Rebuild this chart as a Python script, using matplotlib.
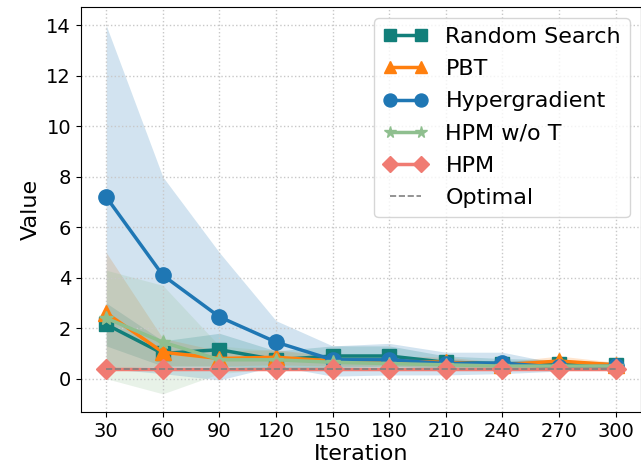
import matplotlib
matplotlib.use("Agg")
import matplotlib.pyplot as plt
import numpy as np

iterations = [30, 60, 90, 120, 150, 180, 210, 240, 270, 300]

rs_mean = [2.15, 1.0, 1.15, 0.75, 0.9, 0.9, 0.65, 0.6, 0.6, 0.55]
rs_low = [1.3, 0.5, 0.5, 0.4, 0.45, 0.5, 0.4, 0.4, 0.45, 0.45]
rs_high = [3.0, 1.5, 1.8, 1.1, 1.3, 1.3, 0.9, 0.8, 0.75, 0.65]

pbt_mean = [2.6, 1.05, 0.8, 0.85, 0.7, 0.7, 0.65, 0.55, 0.7, 0.55]
pbt_low = [0.4, 0.5, 0.5, 0.55, 0.5, 0.5, 0.45, 0.45, 0.55, 0.45]
pbt_high = [5.0, 1.6, 1.1, 1.15, 0.9, 0.9, 0.85, 0.65, 0.9, 0.65]

hg_mean = [7.2, 4.1, 2.45, 1.45, 0.75, 0.75, 0.6, 0.62, 0.45, 0.5]
hg_low = [0.4, 0.2, -0.05, 0.5, 0.1, 0.15, 0.15, 0.2, 0.3, 0.45]
hg_high = [14.0, 8.0, 5.0, 2.3, 1.3, 1.4, 1.05, 1.05, 0.6, 0.55]

wot_mean = [2.4, 1.45, 0.75, 0.75, 0.65, 0.6, 0.55, 0.5, 0.5, 0.5]
wot_low = [0.0, -0.6, 0.2, 0.4, 0.4, 0.4, 0.4, 0.4, 0.4, 0.4]
wot_high = [4.3, 3.7, 1.3, 1.1, 0.9, 0.8, 0.7, 0.6, 0.6, 0.6]

hpm_mean = [0.4] * 10
optimal = [0.4] * 10

labels = ["Random Search", "PBT", "Hypergradient", "HPM w/o T", "HPM", "Optimal"]

fig = plt.figure(figsize=(6.41, 4.69), dpi=100)
ax = fig.add_axes([0.126, 0.121, 0.874, 0.864])

series = [
    (rs_mean, rs_low, rs_high, "#127f7a", "s", 10, labels[0]),
    (pbt_mean, pbt_low, pbt_high, "#ff7f0e", "^", 11, labels[1]),
    (hg_mean, hg_low, hg_high, "#1f77b4", "o", 11, labels[2]),
    (wot_mean, wot_low, wot_high, "#8fbf8f", "*", 10, labels[3]),
    (hpm_mean, hpm_mean, hpm_mean, "#f07b72", "D", 10, labels[4]),
]

for mean, lo, hi, c, m, ms, lab in series:
    ax.fill_between(iterations, lo, hi, color=c, alpha=0.2, linewidth=0)
    ax.plot(iterations, mean, color=c, marker=m, markersize=ms, linewidth=2.5, label=lab)

ax.plot(iterations, optimal, color="gray", linestyle="--", linewidth=1.2, label=labels[5])

ax.set_xticks(iterations)
ax.set_yticks([0, 2, 4, 6, 8, 10, 12, 14])
ax.tick_params(labelsize=14)
ax.set_xlabel("Iteration", fontsize=16, labelpad=2)
ax.set_ylabel("Value", fontsize=16)
ax.grid(True, linestyle=":", color="#c8c8c8", linewidth=1)
ax.legend(loc="upper right", fontsize=16, numpoints=2, labelspacing=0.55, markerscale=0.85)

fig.savefig("out.png", dpi=100)
